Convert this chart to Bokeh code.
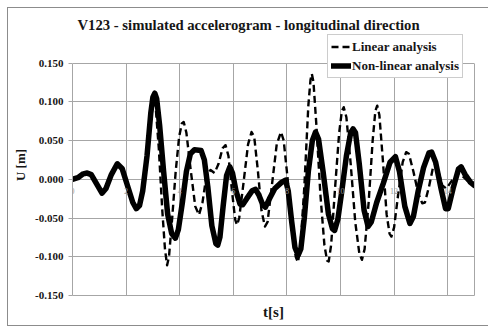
from bokeh.plotting import figure
from bokeh.models import (Range1d, FixedTicker, Legend, LegendItem, LinearAxis,
                          NumeralTickFormatter, InlineStyleSheet)
from bokeh.embed import file_html
from bokeh.resources import INLINE

# ---- data ----
t_nonlinear = [0.00, 0.20, 0.40, 0.55, 0.70, 0.90, 1.10, 1.25, 1.45, 1.67, 1.85, 2.05, 2.25,
               2.38, 2.50, 2.62, 2.78, 2.92, 3.00, 3.07, 3.14, 3.25, 3.40, 3.55, 3.70, 3.84,
               3.95, 4.10, 4.25, 4.40, 4.55, 4.80, 4.92, 5.05, 5.20, 5.35, 5.42, 5.50, 5.62,
               5.75, 5.87, 5.97, 6.10, 6.25, 6.35, 6.50, 6.70, 6.83, 6.95, 7.10, 7.20, 7.35,
               7.55, 7.80, 7.95, 8.05, 8.18, 8.30, 8.42, 8.52, 8.65, 8.80, 8.95, 9.07, 9.18,
               9.35, 9.55, 9.70, 9.78, 9.90, 10.05, 10.22, 10.38, 10.47, 10.56, 10.70, 10.88,
               11.03, 11.15, 11.35, 11.60, 11.85, 12.05, 12.20, 12.40, 12.59, 12.72, 12.90,
               13.10, 13.30, 13.40, 13.55, 13.75, 13.92, 14.02, 14.20, 14.40, 14.50, 14.65,
               14.85, 15.00]
u_nonlinear = [0.000, 0.002, 0.007, 0.008, 0.006, -0.006, -0.018, -0.012, 0.006, 0.020, 0.014,
               -0.008, -0.030, -0.038, -0.034, -0.015, 0.030, 0.085, 0.106, 0.111, 0.104, 0.070,
               0.010, -0.045, -0.070, -0.076, -0.065, -0.030, 0.010, 0.033, 0.038, 0.037, 0.025,
               -0.010, -0.060, -0.083, -0.085, -0.075, -0.035, 0.005, 0.016, 0.008, -0.015,
               -0.032, -0.033, -0.025, -0.015, -0.013, -0.020, -0.033, -0.036, -0.025, -0.012,
               -0.004, -0.001, -0.015, -0.055, -0.088, -0.098, -0.090, -0.050, 0.010, 0.050,
               0.061, 0.052, 0.010, -0.045, -0.064, -0.066, -0.052, -0.015, 0.030, 0.060, 0.065,
               0.060, 0.020, -0.040, -0.061, -0.055, -0.030, -0.005, 0.022, 0.029, 0.010, -0.035,
               -0.057, -0.048, -0.015, 0.015, 0.034, 0.035, 0.022, -0.012, -0.038, -0.038,
               -0.012, 0.013, 0.016, 0.006, -0.004, -0.008]

t_linear = [0.00, 0.20, 0.40, 0.55, 0.70, 0.90, 1.10, 1.25, 1.45, 1.67, 1.85, 2.05, 2.25, 2.38,
            2.50, 2.62, 2.78, 2.90, 2.97, 3.03, 3.10, 3.22, 3.35, 3.45, 3.53, 3.60, 3.72, 3.85,
            3.98, 4.08, 4.15, 4.25, 4.40, 4.58, 4.72, 4.85, 5.00, 5.15, 5.30, 5.45, 5.60, 5.71,
            5.82, 5.95, 6.07, 6.14, 6.22, 6.38, 6.55, 6.68, 6.78, 6.92, 7.05, 7.18, 7.28, 7.45,
            7.62, 7.78, 7.88, 8.03, 8.20, 8.33, 8.41, 8.50, 8.65, 8.80, 8.88, 8.93, 8.99, 9.10,
            9.25, 9.40, 9.50, 9.56, 9.65, 9.80, 9.95, 10.05, 10.12, 10.22, 10.38, 10.55, 10.70,
            10.80, 10.90, 11.05, 11.20, 11.30, 11.37, 11.45, 11.58, 11.72, 11.83, 11.90, 12.00,
            12.15, 12.32, 12.45, 12.55, 12.72, 12.90, 13.05, 13.15, 13.30, 13.45, 13.55, 13.65,
            13.80, 13.95, 14.15, 14.38, 14.55, 14.80, 15.00]
u_linear = [0.000, 0.002, 0.007, 0.008, 0.006, -0.006, -0.018, -0.012, 0.006, 0.020, 0.014,
            -0.008, -0.030, -0.038, -0.034, -0.015, 0.030, 0.085, 0.102, 0.106, 0.095, 0.040,
            -0.040, -0.090, -0.111, -0.100, -0.050, 0.010, 0.055, 0.072, 0.074, 0.060, 0.015,
            -0.035, -0.046, -0.030, 0.005, 0.012, 0.008, 0.020, 0.040, 0.044, 0.030, -0.015,
            -0.052, -0.059, -0.050, -0.005, 0.045, 0.061, 0.055, 0.010, -0.040, -0.061, -0.055,
            -0.005, 0.045, 0.061, 0.050, 0.000, -0.070, -0.100, -0.107, -0.090, -0.010, 0.095,
            0.128, 0.136, 0.126, 0.070, -0.020, -0.085, -0.105, -0.106, -0.085, -0.010, 0.060,
            0.088, 0.093, 0.080, 0.020, -0.055, -0.095, -0.104, -0.090, -0.030, 0.050, 0.088,
            0.095, 0.083, 0.025, -0.045, -0.070, -0.074, -0.062, -0.020, 0.022, 0.035, 0.033,
            0.010, -0.018, -0.031, -0.030, -0.010, 0.015, 0.020, 0.010, -0.008, -0.012, -0.002,
            0.008, 0.004, -0.004, -0.008]

x_ticks = [0, 2, 4, 6, 8, 10, 12, 14]
y_ticks = [-0.15, -0.10, -0.05, 0.0, 0.05, 0.10, 0.15]
x_limits = (0, 15)
y_limits = (-0.15, 0.15)

title_text = "V123 - simulated accelerogram - longitudinal direction"
x_title = "t[s]"
y_title = "U [m]"
series_names = ["Linear analysis", "Non-linear analysis"]

SERIF = "Liberation Serif"
GRID = "#a6a6a6"
TXT = "#161616"

# frame reaches up to the legend so the legend (which overlaps the plot top) is not clipped
p = figure(width=488, height=327, output_backend="svg", toolbar_location=None,
           x_range=Range1d(*x_limits), y_range=Range1d(y_limits[0], 0.1868),
           min_border_left=72, min_border_right=14, min_border_top=34, min_border_bottom=32)
p.background_fill_color = "white"
p.border_fill_color = "white"
p.outline_line_color = None

p.title.text = title_text
p.title.text_font = SERIF
p.title.text_font_style = "bold"
p.title.text_font_size = "14.7px"
p.title.text_color = TXT
p.title.align = "left"
p.title.offset = 5
p.title.standoff = 3

# y axis
p.yaxis.ticker = FixedTicker(ticks=y_ticks)
p.yaxis.bounds = y_limits
p.yaxis.formatter = NumeralTickFormatter(format="0.000")
p.yaxis.major_label_text_font = SERIF
p.yaxis.major_label_text_font_style = "bold"
p.yaxis.major_label_text_font_size = "11px"
p.yaxis.major_label_text_color = TXT
p.yaxis.axis_line_color = GRID
p.yaxis.major_tick_line_color = GRID
p.yaxis.major_tick_out = 4
p.yaxis.major_tick_in = 0
p.yaxis.major_label_standoff = 5
p.yaxis.minor_tick_line_color = None
p.yaxis.axis_label = y_title
p.yaxis.axis_label_text_font = SERIF
p.yaxis.axis_label_text_font_style = "bold"
p.yaxis.axis_label_text_font_size = "13px"
p.yaxis.axis_label_text_color = TXT
p.yaxis.axis_label_standoff = 4

# right border of the plot area
right_axis = LinearAxis(ticker=FixedTicker(ticks=[]), bounds=y_limits,
                        axis_line_color=GRID, major_tick_line_color=None,
                        minor_tick_line_color=None, major_label_text_font_size="0px")
p.add_layout(right_axis, "right")

# x axis: tick labels drawn along U = 0
p.xaxis.ticker = FixedTicker(ticks=x_ticks)
p.xaxis.fixed_location = 0
p.xaxis.axis_line_color = None
p.xaxis.major_tick_line_color = None
p.xaxis.minor_tick_line_color = None
p.xaxis.major_label_text_font = SERIF
p.xaxis.major_label_text_font_size = "8px"
p.xaxis.major_label_text_color = "#9a9a9a"
p.xaxis.major_label_standoff = 3

# bottom axis carrying the x title
bottom_axis = LinearAxis(ticker=FixedTicker(ticks=[]), axis_line_color=GRID,
                         major_tick_line_color=None, minor_tick_line_color=None,
                         major_label_text_font_size="0px", axis_label=x_title,
                         axis_label_text_font=SERIF, axis_label_text_font_style="bold",
                         axis_label_text_font_size="15px", axis_label_text_color=TXT,
                         axis_label_standoff=8)
p.add_layout(bottom_axis, "below")

p.grid.grid_line_color = GRID
p.grid.grid_line_width = 1
p.xgrid.ticker = FixedTicker(ticks=x_ticks)
p.xgrid.cross_bounds = y_limits
p.ygrid.ticker = FixedTicker(ticks=y_ticks)

r_lin = p.line(t_linear, u_linear, line_color="black", line_width=2.4, line_dash="7 4",
               line_join="round")
r_non = p.line(t_nonlinear, u_nonlinear, line_color="black", line_width=5.5,
               line_join="round", line_cap="round")

legend = Legend(items=[LegendItem(label=series_names[0], renderers=[r_lin]),
                       LegendItem(label=series_names[1], renderers=[r_non])],
                location=(255, 217))
legend.label_text_font = SERIF
legend.label_text_font_style = "bold"
legend.label_text_font_size = "13px"
legend.label_text_color = TXT
legend.label_standoff = 1
legend.label_height = 17
legend.glyph_width = 20
legend.glyph_height = 17
legend.spacing = 2
legend.padding = 3
legend.margin = 0
legend.border_line_color = "#9a9a9a"
legend.border_line_width = 1
legend.background_fill_color = "white"
legend.background_fill_alpha = 1
p.add_layout(legend, "center")

# outer chart frame (left, top and bottom edges; the right edge lies outside the picture)
p.stylesheets = [InlineStyleSheet(css=(
    ":host::after { content: ''; position: absolute; left: 7px; top: 7px; right: 0; "
    "bottom: 1px; border: 1px solid #8c8c8c; border-right: none; "
    "box-sizing: border-box; pointer-events: none; }"))]

open("out.html", "w").write(file_html(p, INLINE))
